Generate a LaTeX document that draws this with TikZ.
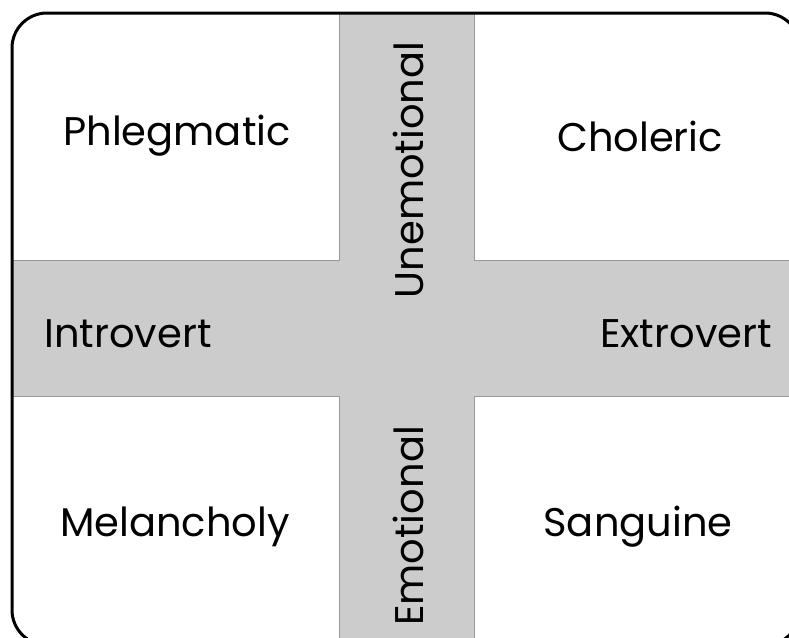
\documentclass[tikz,border=0pt]{standalone}
\usepackage{fontspec}
\setmainfont{Poppins}

\begin{document}
\begin{tikzpicture}[x=1pt, y=-1pt, main/.style = {font=\fontsize{40}{48}\selectfont, anchor=base, inner sep=0pt}, band/.style = {fill=gray!40, draw=gray!80, line width=1pt}]
    \useasboundingbox (0,0) rectangle (789,637);

    % grey cross
    \begin{scope}
    \clip[rounded corners=35] (12,13) rectangle (800,645);
    \draw[band] (339,0) -- (474,0) -- (474,260) -- (820,260) -- (820,396) -- (474,396) -- (474,660) -- (339,660) -- (339,396) -- (0,396) -- (0,260) -- (339,260) -- cycle;
    \end{scope}
    \draw[line width=3pt, rounded corners=35] (12,13) rectangle (800,645);

    \node[main] (phleg) at (177,145) {Phlegmatic};
    \node[main] (chol) at (640,151) {Choleric};
    \node[main] (intro) at (128,347) {Introvert};
    \node[main] (extro) at (686,347) {Extrovert};
    \node[main] (mel) at (175,536) {Melancholy};
    \node[main] (sang) at (638,536) {Sanguine};
    \node[main, rotate=90] (unemo) at (423,170) {Unemotional};
    \node[main, rotate=90] (emo) at (423,526) {Emotional};

    \end{tikzpicture}
\end{document}
